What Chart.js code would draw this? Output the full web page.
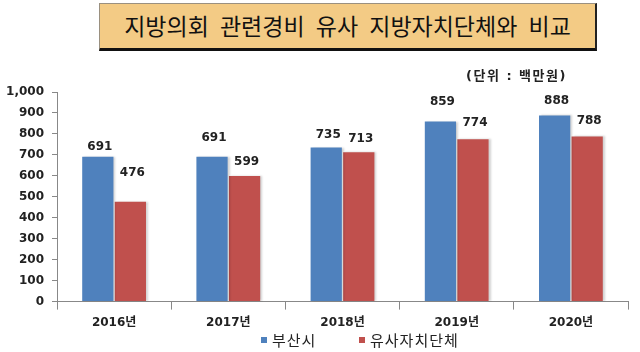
<!DOCTYPE html>
<html>
<head>
<meta charset="utf-8">
<script src="https://cdn.jsdelivr.net/npm/chart.js@4"></script>
<style>
  body { margin: 0; background: #fff; }
  #wrap { position: relative; width: 640px; height: 352px; }
  #title {
    position: absolute; left: 99px; top: 3px; width: 495px; height: 44px;
    background: #f3cb85; border-top: 1px solid #9a9080; border-left: 1px solid #9a9080;
    border-right: 2px solid #222; border-bottom: 3px solid #111;
    font-family: "Noto Sans CJK KR", sans-serif; font-size: 23px; color: #111;
    text-align: center; line-height: 43px; word-spacing: 6px;
  }
  #unit {
    position: absolute; left: 466px; top: 65px; letter-spacing: 1.5px;
    font-family: "DejaVu Sans", "Noto Sans CJK KR", sans-serif; font-size: 13px; font-weight: bold; color: #222;
  }
  canvas { position: absolute; left: 0; top: 0; }
</style>
</head>
<body>
<div id="wrap">
  <canvas id="barChart" width="640" height="352"></canvas>
  <div id="title">지방의회 관련경비 유사 지방자치단체와 비교</div>
  <div id="unit">(단위 : 백만원)</div>
</div>
<script>
// data
var years = ['2016년', '2017년', '2018년', '2019년', '2020년'];
var busan = [691, 691, 735, 859, 888];
var similar = [476, 599, 713, 774, 788];
var seriesNames = ['부산시', '유사자치단체'];

// label gap above each bar (px), as placed in the original
var busanLift = [10, 19, 13, 20, 15];
var similarLift = [29, 14, 13, 16, 16];

var ctx = document.getElementById('barChart').getContext('2d');
var font = '"DejaVu Sans", "Noto Sans CJK KR", sans-serif';
var krFont = '"Noto Sans CJK KR", sans-serif';

// soft shadow on the right side of the bars
var barShadow = {
    id: 'barShadow',
    beforeDatasetsDraw: function (chart) {
        var c = chart.ctx;
        c.save();
        c.shadowColor = 'rgba(0,0,0,0.18)';
        c.shadowOffsetX = 2;
        c.shadowOffsetY = 0;
        c.shadowBlur = 2;
    },
    afterDatasetsDraw: function (chart) {
        chart.ctx.restore();
    }
};

// value labels above the bars and the legend below the axis
var extras = {
    id: 'extras',
    afterDraw: function (chart) {
        var c = chart.ctx;
        c.save();
        c.font = 'bold 12px ' + font;
        c.fillStyle = '#222';
        c.textAlign = 'center';
        c.textBaseline = 'middle';
        var lifts = [busanLift, similarLift];
        chart.data.datasets.forEach(function (ds, i) {
            chart.getDatasetMeta(i).data.forEach(function (bar, j) {
                c.fillText(ds.data[j], bar.x + 2, bar.y - lifts[i][j]);
            });
        });

        // legend
        var items = [[261, '#4f81bd', seriesNames[0]], [359, '#c0504d', seriesNames[1]]];
        c.font = '15px ' + krFont;
        c.letterSpacing = '1px';
        c.textAlign = 'left';
        items.forEach(function (it) {
            c.fillStyle = it[1];
            c.fillRect(it[0], 337, 6, 6);
            c.fillStyle = '#222';
            c.fillText(it[2], it[0] + 11, 340);
        });
        c.restore();
    }
};

var barChart = new Chart(ctx, {
    type: 'bar',
    data: {
        labels: years,
        datasets: [
            { label: seriesNames[0], data: busan, backgroundColor: '#4f81bd' },
            { label: seriesNames[1], data: similar, backgroundColor: '#c0504d' }
        ]
    },
    options: {
        responsive: false,
        animation: false,
        layout: { padding: { left: 0, right: 12, top: 92, bottom: 16 } },
        plugins: { legend: { display: false }, tooltip: { enabled: false } },
        datasets: { bar: { categoryPercentage: 0.57, barPercentage: 0.96 } },
        scales: {
            x: {
                grid: { display: true, drawOnChartArea: false, offset: true, color: '#888', tickLength: 8 },
                border: { color: '#888' },
                ticks: { color: '#222', font: { family: font, size: 12, weight: 'bold' }, padding: 6 }
            },
            y: {
                min: 0, max: 1000,
                afterFit: function (s) { s.width = 57; },
                grid: { display: true, drawOnChartArea: false, color: '#888', tickLength: 5 },
                border: { color: '#888' },
                ticks: {
                    stepSize: 100, color: '#222', padding: 8,
                    font: { family: font, size: 12, weight: 'bold' },
                    callback: function (v) { return v.toLocaleString('en-US'); }
                }
            }
        }
    },
    plugins: [barShadow, extras]
});
</script>
</body>
</html>
